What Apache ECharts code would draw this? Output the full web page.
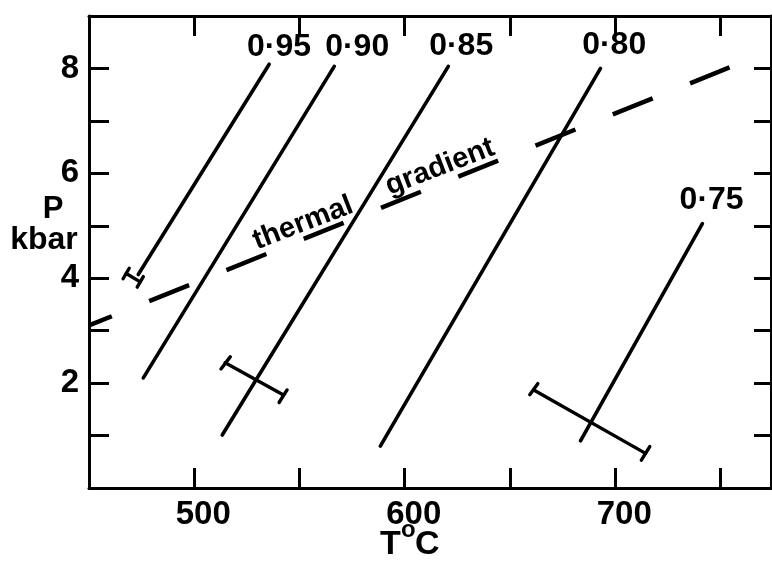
<!DOCTYPE html>
<html><head><meta charset="utf-8">
<script src="https://cdn.jsdelivr.net/npm/echarts@6/dist/echarts.min.js"></script>
<style>html,body{margin:0;padding:0;background:#fff}#c{width:772px;height:568px}</style>
</head><body><div id="c"></div>
<script>
// ---- data ----
const isoLabels = ['0·95', '0·90', '0·85', '0·80', '0·75'];
const isoStart = [[473.4, 4.07], [475.8, 2.10], [513.3, 1.01], [588.4, 0.80], [683.5, 0.90]];
const isoEnd = [[535.6, 8.08], [566.5, 8.04], [620.7, 8.04], [693.0, 8.00], [741.4, 5.04]];
const isoLabelPos = [[540.3, 8.40], [577.4, 8.41], [626.8, 8.43], [699.5, 8.45], [745.8, 5.49]];
const gradientLine = [[450, 3.10], [754.3, 8.02]];
const gradientWords = ['thermal', 'gradient'];
const gradientWordPos = [[551.7, 5.05], [616.8, 6.12]];
const errorBars = [
  [[467.7, 4.09], [474.3, 3.93]],
  [[514.7, 2.39], [542.2, 1.78]],
  [[661.3, 1.87], [714.4, 0.66]]
];
const errorCaps = [
  [[469.1, 4.19], [466.2, 3.99]], [[475.8, 4.03], [472.9, 3.83]],
  [[512.7, 2.27], [517.1, 2.50]], [[540.3, 1.63], [544.1, 1.87]],
  [[659.4, 1.78], [663.2, 1.99]], [[712.4, 0.53], [716.4, 0.79]]
];
const xTickLabels = [500, 600, 700];
const yTickLabels = [2, 4, 6, 8];
const xRange = [450, 774];
const yRange = [0, 9];

// ---- chart ----
const FONT = "'Liberation Sans', Arial, Helvetica, sans-serif";
const chart = echarts.init(document.getElementById('c'), null, {renderer: 'canvas'});
const axisLine = {show: true, onZero: false, lineStyle: {color: '#000', width: 3}};
const tick = len => ({show: true, inside: true, length: len, lineStyle: {color: '#000', width: 3}});

const series = [];
function seg(a, b, width) {
  series.push({
    type: 'line', data: [a, b], symbol: 'none', silent: true,
    lineStyle: {color: '#000', width: width, cap: 'round'}
  });
}
for (let i = 0; i < isoStart.length; i++) seg(isoStart[i], isoEnd[i], 3.6);
errorBars.forEach(s => seg(s[0], s[1], 3.4));
errorCaps.forEach(s => seg(s[0], s[1], 3.4));
series.push({
  type: 'line', data: gradientLine, symbol: 'none', silent: true,
  lineStyle: {color: '#000', width: 4.5, type: [43, 40.3], dashOffset: 18.4, cap: 'butt'}
});
const labelBase = {show: true, position: 'inside', formatter: '{b}', color: '#000',
  textBorderWidth: 0, textShadowBlur: 0, opacity: 1, fontFamily: FONT, fontWeight: 'bold'};
series.push({
  type: 'scatter', symbolSize: 0, silent: true, itemStyle: {color: 'rgba(0,0,0,0)'},
  data: isoLabels.map((t, i) => ({name: t, value: isoLabelPos[i]})),
  label: Object.assign({}, labelBase, {fontSize: 32})
});
series.push({
  type: 'scatter', symbolSize: 0, silent: true, itemStyle: {color: 'rgba(0,0,0,0)'},
  data: gradientWords.map((t, i) => ({name: t, value: gradientWordPos[i]})),
  label: Object.assign({}, labelBase, {fontSize: 29, rotate: 21})
});

chart.setOption({
  animation: false,
  backgroundColor: '#fff',
  grid: {left: 89, right: 1, top: 16, bottom: 80, containLabel: false},
  xAxis: [{
    type: 'value', position: 'bottom', min: xRange[0], max: xRange[1], interval: 50,
    axisLine: axisLine, axisTick: tick(20), splitLine: {show: false},
    axisLabel: {margin: 10, color: '#000', fontFamily: FONT, fontWeight: 'bold', fontSize: 33,
      padding: [0, 0, 0, 18], showMinLabel: true, showMaxLabel: false,
      formatter: v => xTickLabels.indexOf(v) >= 0 ? String(v) : ''}
  }, {
    type: 'value', position: 'top', min: xRange[0], max: xRange[1], interval: 50,
    axisLine: axisLine, axisTick: tick(20), splitLine: {show: false}, axisLabel: {show: false}
  }],
  yAxis: [{
    type: 'value', position: 'left', min: yRange[0], max: yRange[1], interval: 1,
    axisLine: axisLine, axisTick: tick(20), splitLine: {show: false},
    axisLabel: {margin: 10, color: '#000', fontFamily: FONT, fontWeight: 'bold', fontSize: 33,
      formatter: v => yTickLabels.indexOf(v) >= 0 ? String(v) : ''}
  }, {
    type: 'value', position: 'right', min: yRange[0], max: yRange[1], interval: 1,
    axisLine: axisLine, axisTick: tick(17), splitLine: {show: false}, axisLabel: {show: false}
  }],
  graphic: [
    {type: 'text', x: 53, y: 209, style: {text: 'P', font: 'bold 31px ' + FONT, fill: '#000', align: 'center', verticalAlign: 'middle'}},
    {type: 'text', x: 44, y: 240, style: {text: 'kbar', font: 'bold 32px ' + FONT, fill: '#000', align: 'center', verticalAlign: 'middle'}},
    {type: 'text', x: 380, y: 545, style: {text: 'T', font: 'bold 34px ' + FONT, fill: '#000', align: 'left', verticalAlign: 'middle'}},
    {type: 'text', x: 401, y: 530, style: {text: 'o', font: 'bold 24px ' + FONT, fill: '#000', align: 'left', verticalAlign: 'middle'}},
    {type: 'text', x: 415, y: 545, style: {text: 'C', font: 'bold 34px ' + FONT, fill: '#000', align: 'left', verticalAlign: 'middle'}}
  ],
  series: series
});
</script></body></html>
